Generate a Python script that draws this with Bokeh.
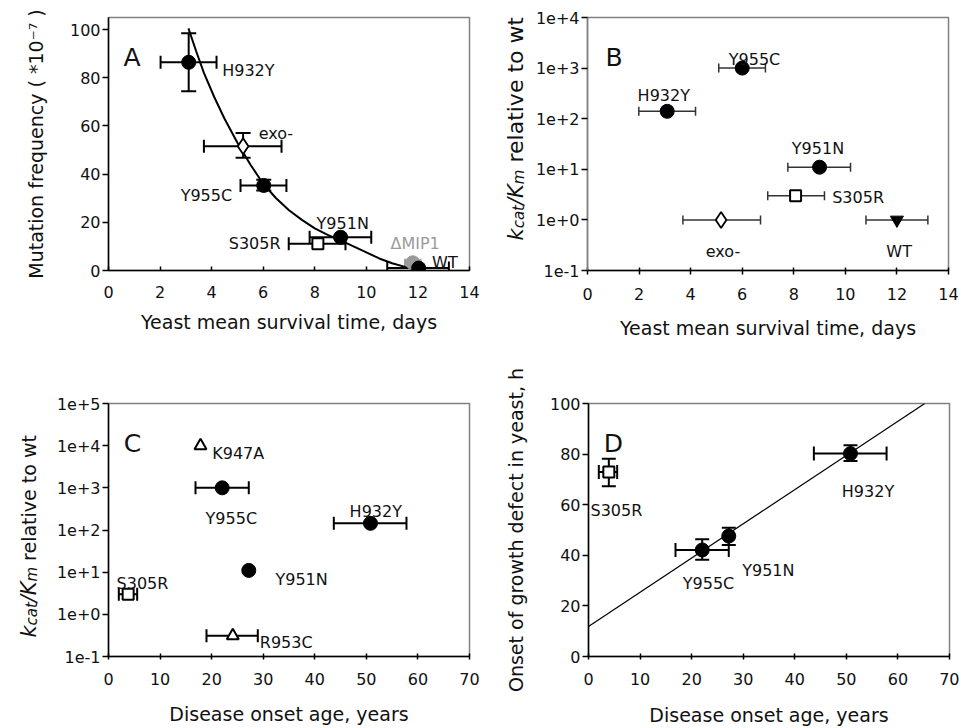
import math
from bokeh.plotting import figure
from bokeh.models import ColumnDataSource, Whisker, TeeHead, Range1d, FixedTicker
from bokeh.layouts import row, column
from bokeh.embed import file_html
from bokeh.resources import INLINE
from bokeh.core.properties import value

FONT = "DejaVu Sans"

# ---------------- data ----------------
# Panel A: mutation frequency vs yeast survival
a_names = ["H932Y", "exo-", "Y955C", "S305R", "Y951N", "ΔMIP1", "WT"]
a_days = [3.11, 5.22, 6.02, 8.12, 9.0, 11.8, 12.03]
a_freq = [86.4, 51.6, 35.3, 11.1, 13.8, 3.2, 1.0]
a_days_lo = [2.02, 3.70, 5.12, 6.99, 7.80, 11.5, 10.81]
a_days_hi = [4.19, 6.71, 6.90, 9.19, 10.19, 12.1, 13.2]
a_freq_lo = [74.4, 46.8, 33.2, None, None, None, None]
a_freq_hi = [98.5, 57.1, 37.7, None, None, None, None]
a_fit_days = [3.1, 3.4, 3.7, 4.1, 4.5, 5.0, 5.5, 6.0, 6.5, 7.0, 7.5, 8.0, 8.5, 9.0, 9.5, 10.0, 10.5, 11.0, 11.5, 11.8]
a_fit_freq = [100.5, 91, 82, 72, 63, 53, 44, 36, 30, 25, 21, 17.5, 14.8, 12.5, 10, 7.5, 5, 3, 1.5, 0.7]
a_xticks = [0, 2, 4, 6, 8, 10, 12, 14]
a_yticks = [0, 20, 40, 60, 80, 100]

# Panel B: kcat/Km vs yeast survival
b_names = ["Y955C", "H932Y", "Y951N", "S305R", "exo-", "WT"]
b_days = [6.0, 3.09, 9.0, 8.07, 5.18, 12.0]
b_kcat = [1000, 140, 11, 3, 1, 1]
b_days_lo = [5.09, 1.99, 7.77, 6.99, 3.70, 10.8]
b_days_hi = [6.90, 4.19, 10.2, 9.19, 6.71, 13.2]
b_yticks = [0.1, 1, 10, 100, 1000, 10000]
b_ytick_labels = ["1e-1", "1e+0", "1e+1", "1e+2", "1e+3", "1e+4"]

# Panel C: kcat/Km vs disease onset age
c_names = ["K947A", "Y955C", "H932Y", "Y951N", "S305R", "R953C"]
c_age = [17.84, 22.05, 50.8, 27.2, 3.81, 24.1]
c_kcat = [10000, 1000, 144, 11, 3, 0.31]
c_age_lo = [None, 16.87, 43.69, None, 2.0, 19.0]
c_age_hi = [None, 27.2, 57.78, None, 5.56, 28.95]
c_yticks = [0.1, 1, 10, 100, 1000, 10000, 100000]
c_ytick_labels = ["1e-1", "1e+0", "1e+1", "1e+2", "1e+3", "1e+4", "1e+5"]

# Panel D: onset of growth defect vs disease onset age
d_names = ["S305R", "H932Y", "Y955C", "Y951N"]
d_age = [3.94, 50.8, 22.05, 27.2]
d_onset = [72.95, 80.2, 42.1, 47.6]
d_age_lo = [2.0, 43.7, 16.87, None]
d_age_hi = [5.56, 57.8, 27.2, None]
d_onset_lo = [67.3, 77.3, 38.2, 44.1]
d_onset_hi = [78.2, 83.5, 46.3, 50.9]
d_fit_age = [0, 65.2]
d_fit_onset = [11.9, 100]
age_ticks = [0, 10, 20, 30, 40, 50, 60, 70]
d_yticks = [0, 20, 40, 60, 80, 100]

# ---------------- styles ----------------
FILLED = dict(marker="circle", size=14, fill_color="black", line_color="black", line_width=1)
OPEN_SQ = dict(marker="square", size=11, fill_color="white", line_color="black", line_width=2)
OPEN_DIA = dict(marker="diamond", size=16, fill_color="white", line_color="black", line_width=1.8)
OPEN_TRI = dict(marker="triangle", size=12, fill_color="white", line_color="black", line_width=2)
GRAY = dict(marker="circle", size=14, fill_color="#9a9a9a", line_color="#9a9a9a", line_width=1)
INV_TRI = dict(marker="inverted_triangle", size=13, fill_color="black", line_color="black", line_width=1)

STYLE_A = {"H932Y": FILLED, "exo-": OPEN_DIA, "Y955C": FILLED, "S305R": OPEN_SQ,
           "Y951N": FILLED, "ΔMIP1": GRAY, "WT": FILLED}
STYLE_B = {"Y955C": FILLED, "H932Y": FILLED, "Y951N": FILLED, "S305R": OPEN_SQ,
           "exo-": OPEN_DIA, "WT": INV_TRI}
STYLE_C = {"K947A": OPEN_TRI, "Y955C": FILLED, "H932Y": FILLED, "Y951N": FILLED,
           "S305R": OPEN_SQ, "R953C": OPEN_TRI}
STYLE_D = {"S305R": OPEN_SQ, "H932Y": FILLED, "Y955C": FILLED, "Y951N": FILLED}

# label placement (screen-pixel offsets from the point, alignment)
LAB_A = {"H932Y": (33.5, 8, "left"), "exo-": (15.6, -12.4, "left"), "Y955C": (-31.6, 10, "right"),
         "S305R": (-37.3, -0.6, "right"), "Y951N": (-24, -14, "left"), "ΔMIP1": (-22.3, -19, "left"),
         "WT": (13.4, -6, "left")}
LAB_B = {"Y955C": (12.3, -8.5, "center"), "H932Y": (-3.4, -15.8, "center"),
         "Y951N": (-1.6, -18.4, "center"), "S305R": (36.6, 1.4, "left"),
         "exo-": (1.9, 31.3, "center"), "WT": (2.2, 31.3, "center")}
LAB_C = {"K947A": (11.7, 8, "left"), "Y955C": (9.1, 30.6, "center"), "H932Y": (5.3, -11.6, "center"),
         "Y951N": (26.7, 9.4, "left"), "S305R": (-11.6, -11.2, "left"), "R953C": (27, 7.1, "left")}
LAB_D = {"S305R": (-18.3, 39, "left"), "H932Y": (17.5, 38.4, "center"),
         "Y955C": (6.3, 33.3, "center"), "Y951N": (13.4, 34.6, "left")}


def base_fig(width, height, xr, yr, ylog, borders):
    l, r, t, b = borders
    p = figure(width=width, height=height, x_range=xr, y_range=yr,
               y_axis_type="log" if ylog else "linear",
               output_backend="svg", toolbar_location=None,
               min_border_left=l, min_border_right=r, min_border_top=t, min_border_bottom=b)
    p.xgrid.visible = False
    p.ygrid.visible = False
    p.outline_line_color = "#808080"
    p.outline_line_width = 1.5
    for ax in (p.xaxis[0], p.yaxis[0]):
        ax.axis_line_color = "black"
        ax.axis_line_width = 1.5
        ax.major_tick_line_color = "black"
        ax.major_tick_line_width = 1.5
        ax.minor_tick_line_color = None
        ax.major_label_text_font = FONT
        ax.major_label_text_font_size = "16px"
        ax.major_label_text_color = "#111111"
        ax.axis_label_text_font = FONT
        ax.axis_label_text_font_size = "19px"
        ax.axis_label_text_font_style = "normal"
        ax.axis_label_text_color = "#111111"
    p.yaxis.major_tick_in = 0
    p.yaxis.major_tick_out = 6
    p.yaxis.major_label_standoff = 2
    return p


def strip_fig(width, height, top, bottom):
    """Label strip; its frame is aligned with the neighbouring plot frame in the row,
    so the y range is set so that one unit is one pixel measured from the canvas bottom."""
    s = figure(width=width, height=height, x_range=Range1d(0, width),
               y_range=Range1d(bottom, height - top),
               output_backend="svg", toolbar_location=None, x_axis_location=None,
               y_axis_location=None, min_border_left=0, min_border_right=0,
               min_border_top=top, min_border_bottom=bottom)
    s.outline_line_color = None
    s.xgrid.visible = False
    s.ygrid.visible = False
    return s


def whiskers(p, base, lo, hi, dim, color="black", width=2, cap=12):
    idx = [i for i in range(len(base)) if lo[i] is not None]
    if not idx:
        return
    src = ColumnDataSource(dict(base=[base[i] for i in idx],
                                lower=[lo[i] for i in idx],
                                upper=[hi[i] for i in idx]))
    w = Whisker(source=src, base="base", lower="lower", upper="upper", dimension=dim,
                line_color=color, line_width=width, level="underlay",
                upper_head=TeeHead(size=cap, line_color=color, line_width=width),
                lower_head=TeeHead(size=cap, line_color=color, line_width=width))
    p.add_layout(w)


def points(p, xs, ys, names, styles):
    for x, y, n in zip(xs, ys, names):
        p.scatter([x], [y], **styles[n])


def labels(p, xs, ys, names, place, size="16px"):
    for x, y, n in zip(xs, ys, names):
        dx, dy, al = place[n]
        p.text([x], [y], text=[n], x_offset=dx, y_offset=dy, text_align=al,
               text_baseline="alphabetic", text_font=value(FONT), text_font_size=size,
               text_color="#9a9a9a" if n == "ΔMIP1" else "#111111")


def letter(p, x, y, t):
    p.text([x], [y], text=[t], text_align="left", text_baseline="alphabetic",
           text_font=value(FONT), text_font_size="25px", text_color="#111111")


def kcat_label(s, xb, xsub, y0, s_main, s_sub, s_rel):
    """Rotated 'k_cat/K_m relative to wt' axis title drawn in a strip figure."""
    em = {"k": 0.579, "cat": 1.555, "/": 0.337, "K": 0.656, "m": 0.974}
    parts = [("k", s_main, xb, "italic"), ("cat", s_sub, xsub, "italic"),
             ("/", s_main, xb, "italic"), ("K", s_main, xb, "italic"),
             ("m", s_sub, xsub, "italic"), ("relative to wt", s_rel, xb, "normal")]
    y = y0
    for txt, sz, x, st in parts:
        if txt.startswith("relative"):
            y += 0.318 * sz  # word space before the plain part
        s.text([x], [y], text=[txt], angle=math.pi / 2, text_align="left",
               text_baseline="alphabetic", text_font=value(FONT), text_font_size=f"{sz}px",
               text_font_style=st, text_color="#111111")
        if txt in em:
            y += em[txt] * sz


# ---------------- Panel A ----------------
pA = base_fig(480, 360, Range1d(0, 14), Range1d(0, 105), False, (108, 11, 17, 90))
pA.xaxis.ticker = FixedTicker(ticks=a_xticks)
pA.yaxis.ticker = FixedTicker(ticks=a_yticks)
pA.xaxis.major_tick_in = 4
pA.xaxis.major_tick_out = 0
pA.xaxis.major_label_standoff = 15
pA.xaxis.axis_label_standoff = 10
pA.yaxis.axis_label_standoff = 20
pA.xaxis.axis_label = "Yeast mean survival time, days"
pA.yaxis.axis_label = "Mutation frequency ( *10⁻⁷ )"
pA.line(a_fit_days, a_fit_freq, line_color="black", line_width=2)
norm = [i for i, n in enumerate(a_names) if n != "ΔMIP1"]
gray = [i for i, n in enumerate(a_names) if n == "ΔMIP1"]
whiskers(pA, [a_freq[i] for i in norm], [a_days_lo[i] for i in norm], [a_days_hi[i] for i in norm], "width", cap=13)
whiskers(pA, [a_freq[i] for i in gray], [a_days_lo[i] for i in gray], [a_days_hi[i] for i in gray], "width", color="#9a9a9a", cap=8)
whiskers(pA, a_days, a_freq_lo, a_freq_hi, "height", cap=15)
points(pA, a_days, a_freq, a_names, STYLE_A)
labels(pA, a_days, a_freq, a_names, LAB_A)
letter(pA, 0.58, 88.4, "A")

# ---------------- Panel B ----------------
sB = strip_fig(45, 360, 17, 90)
kcat_label(sB, 35, 38.5, 120, 21, 15, 22)
pB = base_fig(434, 360, Range1d(0, 14), Range1d(0.1, 1e4), True, (62, 11, 17, 90))
pB.xaxis.ticker = FixedTicker(ticks=a_xticks)
pB.yaxis.ticker = FixedTicker(ticks=b_yticks)
pB.yaxis.major_label_overrides = {t: s for t, s in zip(b_yticks, b_ytick_labels)}
pB.yaxis.axis_line_color = "#808080"
pB.xaxis.major_tick_in = 3
pB.xaxis.major_tick_out = 4
pB.xaxis.major_label_standoff = 13
pB.xaxis.axis_label_standoff = 14
pB.xaxis.axis_label = "Yeast mean survival time, days"
whiskers(pB, b_kcat, b_days_lo, b_days_hi, "width", color="#333333", width=1.5, cap=9)
points(pB, b_days, b_kcat, b_names, STYLE_B)
labels(pB, b_days, b_kcat, b_names, LAB_B)
letter(pB, 0.70, 1641, "B")

# ---------------- Panel C ----------------
sC = strip_fig(40, 368, 43, 71)
kcat_label(sC, 28.3, 31.7, 90, 21, 15, 19)
pC = base_fig(440, 368, Range1d(0, 70), Range1d(0.1, 1e5), True, (68, 11, 43, 71))
pC.xaxis.ticker = FixedTicker(ticks=age_ticks)
pC.yaxis.ticker = FixedTicker(ticks=c_yticks)
pC.yaxis.major_label_overrides = {t: s for t, s in zip(c_yticks, c_ytick_labels)}
pC.xaxis.major_tick_in = 3
pC.xaxis.major_tick_out = 3
pC.xaxis.major_label_standoff = 13
pC.xaxis.axis_label_standoff = 15
pC.xaxis.axis_label = "Disease onset age, years"
whiskers(pC, c_kcat, c_age_lo, c_age_hi, "width", cap=13)
points(pC, c_age, c_kcat, c_names, STYLE_C)
labels(pC, c_age, c_kcat, c_names, LAB_C)
letter(pC, 2.97, 11170, "C")

# ---------------- Panel D ----------------
pD = base_fig(479, 368, Range1d(0, 70), Range1d(0, 100), False, (108, 10, 43, 71))
pD.xaxis.ticker = FixedTicker(ticks=age_ticks)
pD.yaxis.ticker = FixedTicker(ticks=d_yticks)
pD.xaxis.major_tick_in = 3
pD.xaxis.major_tick_out = 3
pD.xaxis.major_label_standoff = 13
pD.xaxis.axis_label_standoff = 16
pD.yaxis.axis_label_standoff = 20
pD.xaxis.axis_label = "Disease onset age, years"
pD.yaxis.axis_label = "Onset of growth defect in yeast, h"
pD.line(d_fit_age, d_fit_onset, line_color="black", line_width=1.2)
whiskers(pD, d_onset, d_age_lo, d_age_hi, "width", cap=14)
whiskers(pD, d_age, d_onset_lo, d_onset_hi, "height", cap=14)
points(pD, d_age, d_onset, d_names, STYLE_D)
labels(pD, d_age, d_onset, d_names, LAB_D)
letter(pD, 2.97, 84.1, "D")

layout = column(row(pA, sB, pB), row(sC, pC, pD))
open("out.html", "w").write(file_html(layout, INLINE))
